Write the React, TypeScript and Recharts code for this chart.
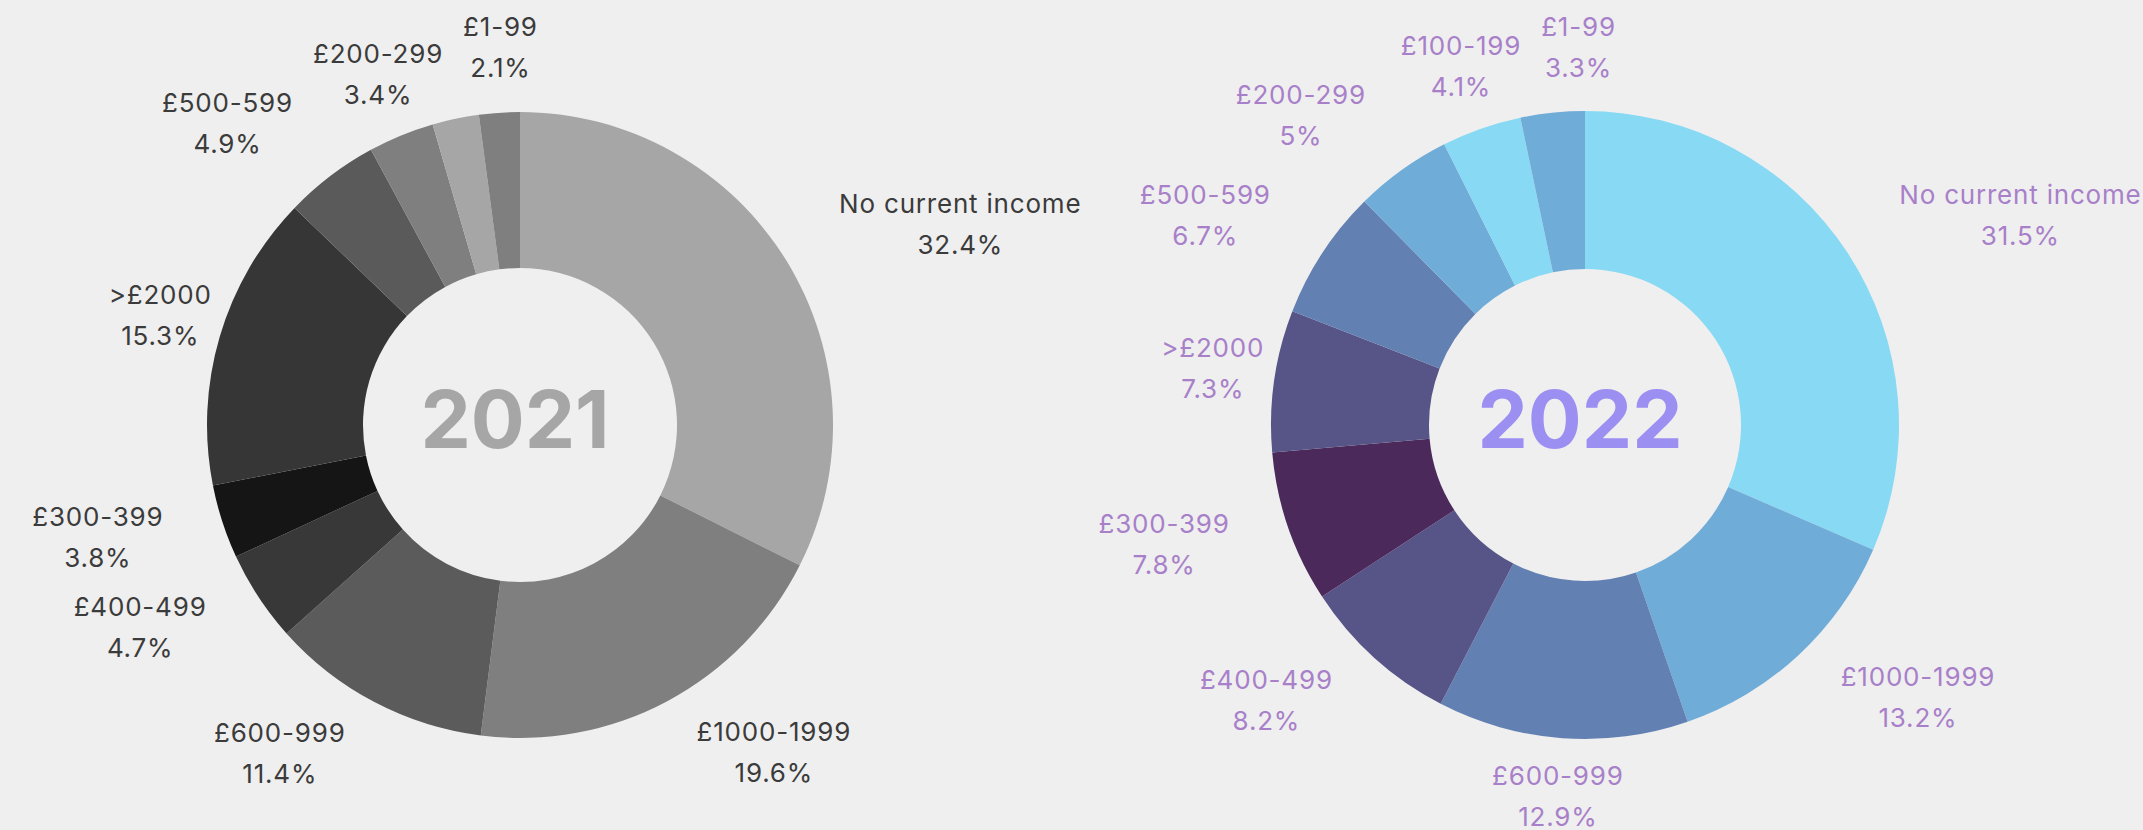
import { PieChart, Pie, Cell } from "recharts";

const categories2021 = [
  "No current income",
  "£1000-1999",
  "£600-999",
  "£400-499",
  "£300-399",
  ">£2000",
  "£500-599",
  "£200-299",
  "£100-199",
  "£1-99",
];
const values2021 = [32.4, 19.6, 11.4, 4.7, 3.8, 15.3, 4.9, 3.4, 2.4, 2.1];
// the £100-199 slice carries no label in the original
const hidden2021 = ["£100-199"];

const categories2022 = [
  "No current income",
  "£1000-1999",
  "£600-999",
  "£400-499",
  "£300-399",
  ">£2000",
  "£500-599",
  "£200-299",
  "£100-199",
  "£1-99",
];
const values2022 = [31.5, 13.2, 12.9, 8.2, 7.8, 7.3, 6.7, 5, 4.1, 3.3];

const COLORS_2021 = [
  "#a6a6a6", "#7f7f7f", "#5b5b5b", "#383838", "#151515",
  "#363636", "#5a5a5a", "#7f7f7f", "#a6a6a6", "#7f7f7f",
];
const COLORS_2022 = [
  "#88d9f3", "#70acd8", "#6380b3", "#575487", "#4b2a5b",
  "#575487", "#6380b3", "#70acd8", "#88d9f3", "#70acd8",
];

const data2021 = categories2021.map((name, i) => ({ name, value: values2021[i] }));
const data2022 = categories2022.map((name, i) => ({ name, value: values2022[i] }));

const W = 2143;
const H = 830;
const CY = 420;
const CX_2021 = 515;
const CX_2022 = 1580;
const OUTER_2021 = 313;
const OUTER_2022 = 314;
const LABEL_GAP = 62;

const FONT = "Inter, 'Noto Sans', sans-serif";
const RAD = Math.PI / 180;
const LABEL_SIZE = 26;
const LABEL_SPACING = 0.8;
const LABEL_H = 70;

let ctx: CanvasRenderingContext2D | null = null;
function textWidth(s: string) {
  if (!ctx && typeof document !== "undefined") {
    ctx = document.createElement("canvas").getContext("2d");
  }
  if (!ctx) return s.length * 0.6 * LABEL_SIZE;
  ctx.font = `${LABEL_SIZE}px Inter`;
  return ctx.measureText(s).width + s.length * LABEL_SPACING;
}

function labelWidth(name: string, value: number) {
  return Math.max(textWidth(name), textWidth(`${value}%`));
}

// label centre relative to the pie centre, for a slice at midAngle (recharts degrees)
function labelOffset(midAngle: number, r: number, w: number) {
  const c = Math.cos(-midAngle * RAD);
  const s = Math.sin(-midAngle * RAD);
  // labels on the flanks sit beside their anchor, the rest are centred on it
  const shift = Math.abs(c) > 0.42 && Math.abs(s) > 0.3 ? Math.sign(c) * (w / 2) : 0;
  return { x: r * c + shift, y: r * s };
}

// horizontal nudges so neighbouring labels don't collide
function nudges(names: string[], values: number[], hidden: string[], r: number) {
  const total = values.reduce((a, b) => a + b, 0);
  const out = values.map(() => 0);
  let cum = 0;
  let prev: { x: number; y: number; w: number } | null = null;
  values.forEach((v, i) => {
    const mid = 90 - (360 * (cum + v / 2)) / total;
    cum += v;
    if (hidden.includes(names[i])) return;
    const w = labelWidth(names[i], v);
    const p = labelOffset(mid, r, w);
    if (prev && Math.abs(p.y - prev.y) < LABEL_H) {
      const need = (w + prev.w) / 2 + 20;
      const dx = p.x - prev.x;
      if (Math.abs(dx) < need) {
        out[i] = (Math.sign(dx) || 1) * (need - Math.abs(dx));
        p.x += out[i];
      }
    }
    prev = { x: p.x, y: p.y, w };
  });
  return out;
}

function makeLabel(color: string, push: number[], hidden: string[] = []) {
  return (props: any) => {
    const { cx, cy, midAngle, outerRadius, name, value, index } = props;
    if (hidden.includes(name)) return null;
    const pct = `${value}%`;
    const w = labelWidth(name, value);
    const o = labelOffset(midAngle, outerRadius + LABEL_GAP, w);
    const x = cx + o.x + (push[index] ?? 0);
    const y = cy + o.y;
    return (
      <text
        x={x}
        y={y}
        textAnchor="middle"
        fill={color}
        fontFamily={FONT}
        fontSize={LABEL_SIZE}
        letterSpacing={LABEL_SPACING}
      >
        <tspan x={x} y={y - 15}>
          {name}
        </tspan>
        <tspan x={x} y={y + 26}>
          {pct}
        </tspan>
      </text>
    );
  };
}

export default function App() {
  const push2021 = nudges(categories2021, values2021, hidden2021, OUTER_2021 + LABEL_GAP);
  const push2022 = nudges(categories2022, values2022, [], OUTER_2022 + LABEL_GAP);

  return (
    <div style={{ position: "relative", width: W, height: H, background: "#efefef", overflow: "hidden" }}>
      <style>{`body{margin:0}`}</style>
      <PieChart width={W} height={H}>
        <Pie
          data={data2021}
          dataKey="value"
          nameKey="name"
          cx={CX_2021}
          cy={CY}
          innerRadius={157}
          outerRadius={OUTER_2021}
          startAngle={90}
          endAngle={-270}
          stroke="none"
          label={makeLabel("#3b3b3b", push2021, hidden2021)}
          labelLine={false}
          isAnimationActive={false}
        >
          {data2021.map((d, i) => (
            <Cell key={d.name} fill={COLORS_2021[i]} />
          ))}
        </Pie>
        <Pie
          data={data2022}
          dataKey="value"
          nameKey="name"
          cx={CX_2022}
          cy={CY}
          innerRadius={156}
          outerRadius={OUTER_2022}
          startAngle={90}
          endAngle={-270}
          stroke="none"
          label={makeLabel("#a880c9", push2022)}
          labelLine={false}
          isAnimationActive={false}
        >
          {data2022.map((d, i) => (
            <Cell key={d.name} fill={COLORS_2022[i]} />
          ))}
        </Pie>
      </PieChart>
      {/* year in the middle of each donut */}
      <svg
        width={W}
        height={H}
        style={{ position: "absolute", left: 0, top: 0, pointerEvents: "none" }}
      >
        <text x={CX_2021} y={CY + 28} textAnchor="middle" fill="#a6a6a6" fontFamily={FONT} fontWeight={700} fontSize={80}>
          2021
        </text>
        <text x={CX_2022} y={CY + 28} textAnchor="middle" fill="#9c8ff2" fontFamily={FONT} fontWeight={700} fontSize={80}>
          2022
        </text>
      </svg>
    </div>
  );
}
